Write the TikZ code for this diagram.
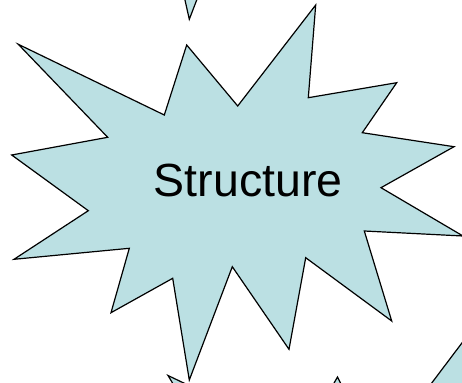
\documentclass[tikz,border=0pt]{standalone}
\usepackage{fontspec}
\setmainfont{Liberation Sans}
\definecolor{burstfill}{RGB}{187,224,227}
\begin{document}
\begin{tikzpicture}[x=1pt,y=-1pt,
  burst/.style={fill=burstfill,draw=black,line width=1.2pt,line join=miter,miter limit=20},
  burstlabel/.style={font=\fontsize{46.5}{50}\selectfont,text=black,inner sep=0pt,anchor=base}]
\useasboundingbox (0,0) rectangle (462,382);
\clip (0,0) rectangle (462,382);
% main starburst
\draw[burst] (18.3,44.3) -- (164.3,115) -- (186.7,45) -- (237.7,106) -- (315.7,5)
  -- (308.3,97.7) -- (396.7,82.7) -- (362.3,132.7) -- (454,146.7) -- (381,187.7)
  -- (463,236) -- (364.3,231) -- (391.7,321) -- (305.7,257.7) -- (289,349.3)
  -- (232.3,266.7) -- (189.3,380) -- (172.7,278.3) -- (111,312.7) -- (129.3,248.3)
  -- (14,259.3) -- (88.3,210.7) -- (11.7,155) -- (107.7,137.3) -- cycle;
\node[burstlabel] (lbl) at (248.3,196.7) {Structure};
% fragments of neighbouring shapes
\draw[burst] (180.5,-20) -- (189.3,19.3) -- (204.4,-20) -- cycle;
\draw[burst] (471.7,330) -- (418.9,400) -- (500,400) -- (500,330) -- cycle;
\draw[burst] (168,375.5) -- (190,386) -- (178,392) -- cycle;
\draw[burst] (337.5,377) -- (344,390) -- (330,390) -- cycle;
\end{tikzpicture}
\end{document}
